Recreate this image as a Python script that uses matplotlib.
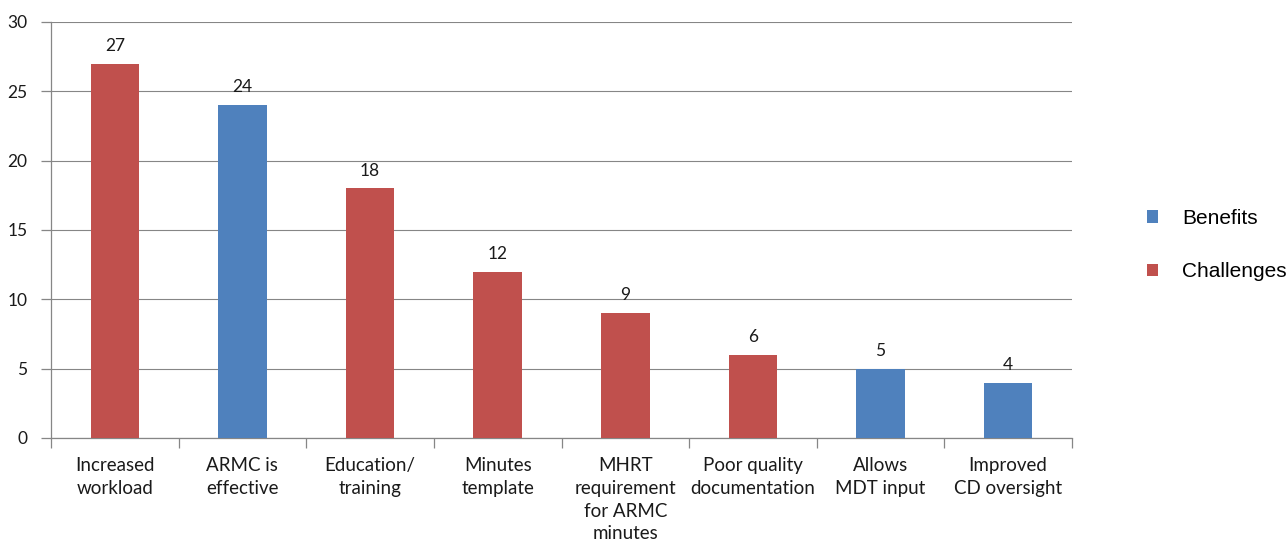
import matplotlib
matplotlib.use("Agg")
import matplotlib.pyplot as plt
from matplotlib.patches import Patch
import numpy as np

categories = ["Increased\nworkload", "ARMC is\neffective", "Education/\ntraining",
              "Minutes\ntemplate", "MHRT\nrequirement\nfor ARMC\nminutes",
              "Poor quality\ndocumentation", "Allows\nMDT input", "Improved\nCD oversight"]
values = [27, 24, 18, 12, 9, 6, 5, 4]
groups = ["Challenges", "Benefits", "Challenges", "Challenges", "Challenges",
          "Challenges", "Benefits", "Benefits"]
series = ["Benefits", "Challenges"]
colors = {"Benefits": "#4F81BD", "Challenges": "#C0504D"}
y_ticks = [0, 5, 10, 15, 20, 25, 30]

font = ["Lato", "DejaVu Sans"]
grid_col = "#868686"

fig = plt.figure(figsize=(12.87, 5.42), dpi=100)
ax = fig.add_axes([51 / 1287, 104 / 542, (1072 - 51) / 1287, (438 - 22) / 542])

x = np.arange(len(categories))
ax.bar(x, values, width=0.38, color=[colors[g] for g in groups], zorder=3)
for xi, v in zip(x, values):
    ax.text(xi, v + 0.7, str(v), ha="center", va="bottom", fontsize=12.5,
            family=font, color="#1a1a1a")

ax.set_xlim(-0.5, len(categories) - 0.5)
ax.set_ylim(0, 30)
ax.set_yticks(y_ticks)
ax.set_yticklabels([str(t) for t in y_ticks], fontsize=12.5, family=font, color="#1a1a1a")
ax.yaxis.grid(True, color=grid_col, linewidth=0.8, zorder=0)
ax.set_axisbelow(True)

ax.set_xticks(x)
ax.set_xticklabels(categories, fontsize=13.5, family=font, color="#1a1a1a", linespacing=1.4)
ax.tick_params(axis="x", length=0, pad=14)
ax.set_xticks(np.arange(len(categories) + 1) - 0.5, minor=True)
ax.tick_params(axis="x", which="minor", length=7, color=grid_col, width=0.9)
ax.tick_params(axis="y", length=7, color=grid_col, width=0.9, pad=10)

for side in ["top", "right"]:
    ax.spines[side].set_visible(False)
for side in ["left", "bottom"]:
    ax.spines[side].set_color(grid_col)
    ax.spines[side].set_linewidth(0.9)

handles = [Patch(facecolor=colors[s], edgecolor="none") for s in series]
fig.legend(handles, series, loc="center left", bbox_to_anchor=(1128 / 1287, (542 - 245) / 542),
           frameon=False, prop={"family": ["Liberation Sans", "DejaVu Sans"], "size": 15},
           handlelength=0.55, handleheight=0.55, handletextpad=1.15, labelspacing=1.65)

fig.savefig("out.png", dpi=100)
